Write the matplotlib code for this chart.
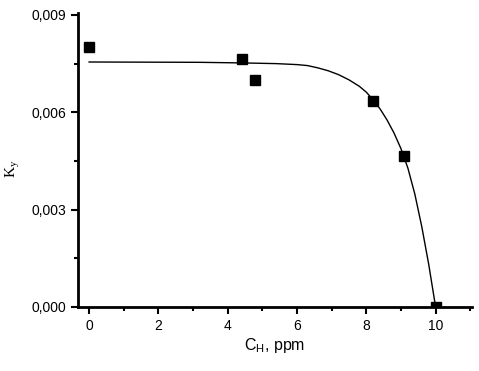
import numpy as np
import matplotlib
matplotlib.use("Agg")
import matplotlib.pyplot as plt
from matplotlib.ticker import FuncFormatter, MultipleLocator

# measured points
conc = [0.0, 4.4, 4.8, 8.2, 9.1, 10.0]
ky = [0.0080, 0.00764, 0.00699, 0.00634, 0.00464, 0.0]

# fitted curve
fit_x = [0.0, 3.2, 4.5, 5.4, 6.0, 6.3, 6.6, 6.9, 7.2, 7.5, 7.8, 8.0, 8.2, 8.4,
         8.6, 8.8, 9.0, 9.2, 9.4, 9.6, 9.8, 10.0]
fit_y = [0.00755, 0.00754, 0.00752, 0.00750, 0.00747, 0.00744, 0.00737, 0.00728,
         0.00716, 0.00700, 0.00680, 0.00662, 0.00638, 0.00610, 0.00576, 0.00536,
         0.00488, 0.00428, 0.00348, 0.00248, 0.00132, 0.0]

plt.rcParams["font.family"] = ["Liberation Sans", "DejaVu Sans"]

fig = plt.figure(figsize=(4.79, 3.71), dpi=100)
ax = fig.add_axes([78 / 479, 1 - 307 / 371, (472 - 78) / 479, (307 - 13) / 371])

ax.plot(fit_x, fit_y, c="black", lw=1)
ax.plot(conc, ky, ls="none", marker="s", ms=6.5, c="black")

ax.set_xlim(-0.32, 11.05)
ax.set_ylim(0, 0.00906)

for side in ["top", "right"]:
    ax.spines[side].set_visible(False)
for side in ["left", "bottom"]:
    ax.spines[side].set_linewidth(2)

ax.xaxis.set_major_locator(MultipleLocator(2))
ax.xaxis.set_minor_locator(MultipleLocator(1))
ax.yaxis.set_major_locator(MultipleLocator(0.003))
ax.yaxis.set_minor_locator(MultipleLocator(0.0015))
ax.yaxis.set_major_formatter(FuncFormatter(lambda v, p: f"{v:.3f}".replace(".", ",")))
ax.tick_params(which="major", direction="out", length=5, width=1.5, labelsize=10)
ax.tick_params(which="minor", direction="out", length=3, width=1.5)

ax.set_xlabel("C$_\\mathregular{H}$, ppm", fontsize=11.5)
ax.xaxis.set_label_coords(0.5, -0.1)
ax.set_ylabel("K$_\\mathregular{y}$", fontsize=11, family=["Liberation Serif", "DejaVu Serif"])
ax.yaxis.set_label_coords(-0.142, 0.47)

fig.savefig("out.png", dpi=100)
